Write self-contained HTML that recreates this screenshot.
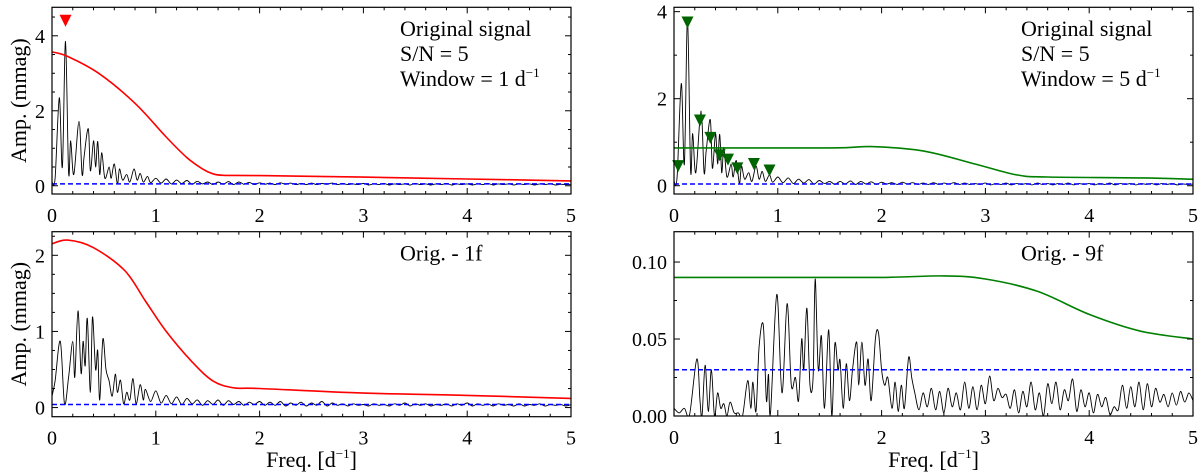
<!DOCTYPE html>
<html><head><meta charset="utf-8"><style>
html,body{margin:0;padding:0;background:#fff;}
svg{display:block;font-family:"Liberation Serif","DejaVu Serif",serif;}
</style></head><body>
<svg id="c" width="1200" height="475" viewBox="0 0 1200 475" xmlns="http://www.w3.org/2000/svg"></svg>
<script>
// ---- data ----
const origFreq=[0,0.03,0.07,0.1,0.13,0.16,0.18,0.21,0.26,0.29,0.31,0.35,0.37,0.4,0.42,0.44,0.46,0.48,0.51,0.55,0.57,0.6,0.63,0.65,0.68,0.72,0.75,0.79,0.82,0.85,0.88,0.92,0.95];
const origAmp=[0.1,0.2,2.35,0.5,3.85,0.35,1.2,0.3,1.72,0.3,0.8,1.52,0.4,1.2,0.5,1.18,0.3,0.88,0.2,0.5,0.2,0.58,0.05,0.45,0.15,0.3,0.1,0.45,0.15,0.33,0.1,0.25,0.08];
const tailStep=0.05;
const origTailStart=1.0;
const origTail=[0.2,0.07,0.18,0.05,0.15,0.06,0.14,0.04,0.12,0.05,0.1,0.03,0.1,0.04,0.11,0.03,0.1,0.04,0.09,0.03,0.08,0.04,0.07,0.03,0.08,0.04,0.07,0.03,0.06,0.03,0.07,0.03,0.06,0.04,0.07,0.03,0.06,0.03,0.05,0.03,0.06,0.02,0.05,0.03,0.06,0.02,0.05,0.03,0.05,0.02,0.06,0.03,0.05,0.02,0.05,0.03,0.06,0.02,0.05,0.03,0.05,0.02,0.05,0.03,0.06,0.02,0.05,0.03,0.05,0.02,0.05,0.03,0.05,0.02,0.05,0.03,0.05,0.02,0.04,0.03,0.04];
const res1Freq=[0,0.03,0.08,0.12,0.16,0.2,0.22,0.25,0.28,0.3,0.32,0.34,0.37,0.39,0.42,0.44,0.46,0.49,0.52,0.55,0.58,0.61,0.63,0.66,0.69,0.72,0.75,0.78,0.81,0.85,0.88];
const res1Amp=[0.15,0.35,0.87,0.05,0.4,0.87,0.4,1.27,0.45,0.87,0.55,1.17,0.2,1.19,0.5,0.75,0.1,0.9,0.5,0.35,0.15,0.44,0.2,0.36,0.05,0.2,0.1,0.38,0.05,0.3,0.1];
const res1TailStart=0.9;
const res1Tail=[0.24,0.08,0.22,0.06,0.16,0.05,0.14,0.04,0.12,0.05,0.1,0.03,0.09,0.04,0.1,0.03,0.09,0.04,0.08,0.03,0.07,0.04,0.08,0.03,0.07,0.03,0.08,0.02,0.06,0.03,0.07,0.02,0.06,0.03,0.08,0.02,0.06,0.03,0.05,0.02,0.05,0.03,0.04,0.02,0.05,0.03,0.04,0.02,0.05,0.03,0.06,0.02,0.05,0.03,0.05,0.02,0.04,0.03,0.05,0.02,0.05,0.03,0.06,0.02,0.05,0.03,0.05,0.02,0.05,0.03,0.04,0.02,0.05,0.02,0.04,0.03,0.05,0.02,0.04,0.03,0.04,0.02,0.04];
const res9Freq=[0,0.05,0.1,0.15,0.22,0.25,0.27,0.3,0.33,0.36,0.39,0.42,0.45,0.48,0.51,0.54,0.58,0.62,0.66,0.71,0.74,0.76,0.79,0.82,0.86,0.89,0.91,0.93,0.99,1.04,1.09,1.13,1.17,1.2,1.23,1.25,1.28,1.31,1.34,1.36,1.39,1.42,1.45,1.49,1.52,1.55,1.58,1.6,1.63,1.66,1.69,1.72,1.76,1.78,1.81,1.84,1.87,1.9,1.94,1.97,2.0,2.03,2.06,2.1,2.13,2.16,2.19,2.22,2.26,2.29,2.32];
const res9Amp=[0.005,0.002,0.005,0.001,0.037,0.01,0,0.033,0.003,0.03,0,0.015,0.005,0.008,0,0.009,0.002,0.002,0,0.023,0.005,0.022,0.003,0.045,0.059,0.01,0.027,0.002,0.079,0.015,0.073,0.02,0.025,0.01,0.05,0.03,0.07,0.02,0.025,0.089,0.03,0.052,0.005,0.056,0,0.047,0.03,0.036,0.005,0.034,0.01,0.03,0.048,0.02,0.048,0.02,0.037,0.01,0.05,0.054,0.03,0.02,0.025,0.005,0.022,0.003,0.02,0.005,0.038,0.025,0.015];
const res9TailStart=2.36;
const res9TailStep=0.04;
const res9Tail=[0.004,0.015,0.006,0.018,0.004,0.016,0.002,0.018,0.006,0.015,0.004,0.022,0.005,0.019,0.004,0.02,0.008,0.026,0.01,0.018,0.012,0.014,0.005,0.017,0.002,0.016,0.006,0.022,0.004,0.015,0.0,0.021,0.008,0.022,0.004,0.017,0.01,0.024,0.003,0.017,0.006,0.015,0.002,0.014,0.006,0.012,0.001,0.006,0.004,0.02,0.005,0.019,0.006,0.022,0.004,0.021,0.006,0.018,0.009,0.014,0.006,0.015,0.007,0.016,0.009,0.015,0.01];
const redTopFreq=[0,0.15,0.45,0.8,1.1,1.3,1.45,1.55,1.65,2,3,4,5];
const redTopAmp=[3.57,3.45,3.0,2.2,1.3,0.75,0.45,0.32,0.28,0.27,0.23,0.18,0.13];
const greenTopFreq=[0,1.5,1.9,2.4,2.9,3.3,3.6,4.5,5];
const greenTopAmp=[0.87,0.87,0.9,0.8,0.5,0.25,0.2,0.18,0.15];
const redBotFreq=[0,0.15,0.4,0.7,0.9,1.1,1.35,1.55,1.75,2,3,4,5];
const redBotAmp=[2.15,2.2,2.1,1.8,1.4,1.0,0.6,0.35,0.26,0.25,0.19,0.16,0.12];
const greenBotFreq=[0,1.0,2.0,2.6,3.0,3.5,4.0,4.5,5];
const greenBotAmp=[0.09,0.09,0.09,0.091,0.089,0.081,0.066,0.055,0.05];
const noiseLevels=[0.05,0.04,0.04,0.03];
const greenMarkFreq=[0.04,0.13,0.25,0.35,0.44,0.52,0.61,0.77,0.92];
const greenMarkAmp=[0.45,3.75,1.5,1.1,0.7,0.6,0.4,0.5,0.35];
const redMarkFreq=[0.13];
const redMarkAmp=[4.4];

const svg=document.getElementById('c');
const NS='http://www.w3.org/2000/svg';
function mk(t,a,p){const e=document.createElementNS(NS,t);for(const k in a)e.setAttribute(k,a[k]);(p||svg).appendChild(e);return e;}
function tail(start,step,arr){return arr.map((v,i)=>[start+i*step,v]);}
function smooth(pts){let d='M'+pts[0][0].toFixed(1)+','+pts[0][1].toFixed(1);for(let i=0;i<pts.length-1;i++){const p0=pts[Math.max(0,i-1)],p1=pts[i],p2=pts[i+1],p3=pts[Math.min(pts.length-1,i+2)];const c1=[p1[0]+(p2[0]-p0[0])/6,p1[1]+(p2[1]-p0[1])/6],c2=[p2[0]-(p3[0]-p1[0])/6,p2[1]-(p3[1]-p1[1])/6];d+='C'+c1[0].toFixed(1)+','+c1[1].toFixed(1)+' '+c2[0].toFixed(1)+','+c2[1].toFixed(1)+' '+p2[0].toFixed(1)+','+p2[1].toFixed(1);}return d;}

const panels=[
 {id:'top-left',x0:52,x1:571,yt:7.3,yb:194,ymin:-0.22,ymax:4.76,yt_major:[0,2,4],ylab:v=>v,minor:0.5,
  sig:origFreq.map((f,i)=>[f,origAmp[i]]).concat(tail(origTailStart,tailStep,origTail)),
  env:[redTopFreq,redTopAmp],col:'#ff0000',noise:noiseLevels[0],marks:[redMarkFreq,redMarkAmp],mcol:'#ff0000',
  text:['Original signal','S/N = 5','Window = 1 d'],tx:400,xlabel:false,ytitle:true},
 {id:'top-right',x0:674,x1:1193,yt:7.3,yb:194,ymin:-0.19,ymax:4.1,yt_major:[0,2,4],ylab:v=>v,minor:1,
  sig:origFreq.map((f,i)=>[f,origAmp[i]]).concat(tail(origTailStart,tailStep,origTail)),
  env:[greenTopFreq,greenTopAmp],col:'#008000',noise:noiseLevels[1],marks:[greenMarkFreq,greenMarkAmp],mcol:'#006400',
  text:['Original signal','S/N = 5','Window = 5 d'],tx:1021,xlabel:false,ytitle:false},
 {id:'bottom-left',x0:52,x1:571,yt:231.7,yb:416.7,ymin:-0.12,ymax:2.31,yt_major:[0,1,2],ylab:v=>v,minor:0.25,
  sig:res1Freq.map((f,i)=>[f,res1Amp[i]]).concat(tail(res1TailStart,tailStep,res1Tail)),
  env:[redBotFreq,redBotAmp],col:'#ff0000',noise:noiseLevels[2],marks:null,
  text:['Orig. - 1f'],tx:400,xlabel:true,ytitle:true},
 {id:'bottom-right',x0:674,x1:1193,yt:231.7,yb:416,ymin:0,ymax:0.1197,yt_major:[0,0.05,0.1],ylab:v=>v.toFixed(2),minor:0.025,
  sig:res9Freq.map((f,i)=>[f,res9Amp[i]]).concat(tail(res9TailStart,res9TailStep,res9Tail)),
  env:[greenBotFreq,greenBotAmp],col:'#008000',noise:noiseLevels[3],marks:null,
  text:['Orig. - 9f'],tx:1021,xlabel:true,ytitle:false}
];

panels.forEach(P=>{
 const g=mk('g',{});
 
 
 const X=f=>P.x0+(f/5)*(P.x1-P.x0);
 const Y=v=>P.yb-(v-P.ymin)/(P.ymax-P.ymin)*(P.yb-P.yt);
 const cid='clip-'+P.id;
 const cp=mk('clipPath',{id:cid},g);mk('rect',{x:P.x0,y:P.yt,width:P.x1-P.x0,height:P.yb-P.yt},cp);
 const s=mk('path',{d:smooth(P.sig.map(p=>[X(p[0]),Y(p[1])])),fill:'none',stroke:'#000','stroke-width':0.9,'clip-path':'url(#'+cid+')'},g);
 
 
 const n=mk('line',{x1:P.x0,x2:P.x1,y1:Y(P.noise),y2:Y(P.noise),stroke:'#0000ff','stroke-width':1.5,'stroke-dasharray':'5,3'},g);
 
 
 const e=mk('path',{d:smooth(P.env[0].map((f,i)=>[X(f),Y(P.env[1][i])])),fill:'none',stroke:P.col,'stroke-width':1.6},g);
 
 
 if(P.marks){P.marks[0].forEach((f,i)=>{const cx=X(f),cy=Y(P.marks[1][i]);const m=mk('polygon',{points:(cx-6)+','+(cy-6)+' '+(cx+6)+','+(cy-6)+' '+cx+','+(cy+6),fill:P.mcol},g);
  
  });}
 const fr=mk('rect',{x:P.x0,y:P.yt,width:P.x1-P.x0,height:P.yb-P.yt,fill:'none',stroke:'#000','stroke-width':1.2},g);
 
 
 for(let k=0;k<=25;k++){const f=k*0.2,x=X(f),L=(k%5==0)?6:3;
  mk('line',{x1:x,x2:x,y1:P.yb,y2:P.yb-L,stroke:'#000','stroke-width':1},g);
  mk('line',{x1:x,x2:x,y1:P.yt,y2:P.yt+L,stroke:'#000','stroke-width':1},g);
  if(k%5==0){const t=mk('text',{x:x,y:P.yb+28,'font-size':20,'text-anchor':'middle'},g);t.textContent=String(k/5);
   
   }}
 for(let v=Math.ceil(P.ymin/P.minor-1e-9)*P.minor;v<=P.ymax+1e-9;v+=P.minor){const y=Y(v);
  const major=P.yt_major.some(m=>Math.abs(m-v)<1e-9);const L=major?6:3;
  mk('line',{x1:P.x0,x2:P.x0+L,y1:y,y2:y,stroke:'#000','stroke-width':1},g);
  mk('line',{x1:P.x1,x2:P.x1-L,y1:y,y2:y,stroke:'#000','stroke-width':1},g);}
 P.yt_major.forEach(v=>{const t=mk('text',{x:P.x0-7,y:Y(v)+7,'font-size':20,'text-anchor':'end'},g);t.textContent=String(P.ylab(v));
  
  });
 P.text.forEach((s,i)=>{const t=mk('text',{x:P.tx,y:(P.yt-7.3)+36+i*25,'font-size':22},g);
  t.textContent=s;
  if(s.startsWith('Window')){const sp=mk('tspan',{'font-size':13,dy:-9},t);sp.textContent='−1';}
  
  });
 if(P.xlabel){const t=mk('text',{x:(P.x0+P.x1)/2,y:467,'font-size':22,'text-anchor':'middle'},g);t.textContent='Freq. [d';
  const sp=mk('tspan',{'font-size':13,dy:-9},t);sp.textContent='−1';const sp2=mk('tspan',{dy:9},t);sp2.textContent=']';
  
  }
 if(P.ytitle){const cy=(P.yt+P.yb)/2;const t=mk('text',{x:0,y:0,'font-size':22,'text-anchor':'middle',transform:'translate(26,'+cy+') rotate(-90)'},g);t.textContent='Amp. (mmag)';
  
  }
});
</script>
</body></html>
